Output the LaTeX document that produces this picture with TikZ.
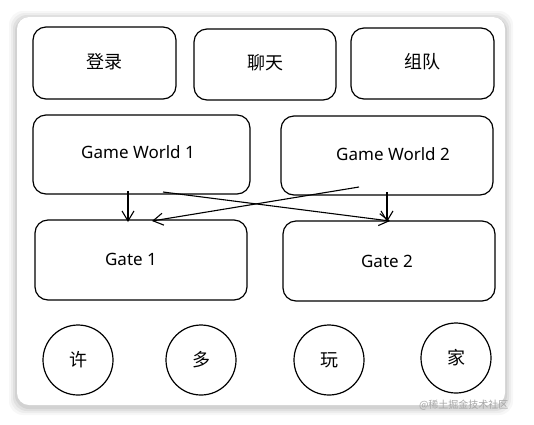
\documentclass[tikz,border=0pt]{standalone}
\usepackage{fontspec}
\setmainfont{Noto Sans}
\newfontfamily\cjk{Noto Sans CJK SC}
\usetikzlibrary{arrows.meta}
\begin{document}
\begin{tikzpicture}[x=1pt,y=-1pt,
  box/.style={draw=black,line width=1.2pt,rounded corners=13pt},
  cbox/.style={draw=black,line width=1.2pt,circle,minimum size=70pt,inner sep=0pt},
  lbl/.style={font=\cjk\fontsize{18}{20}\selectfont},
  en/.style={font=\fontsize{17}{19}\selectfont},
  arr/.style={line width=1.1pt,-{Straight Barb[length=10pt,width=12pt]}}]
\useasboundingbox (0,0) rectangle (534,424);
\fill[white] (0,0) rectangle (534,424);
% shadow
\foreach \i/\o in {8/0.03,6/0.04,4/0.05,2/0.06}
  \fill[black,opacity=\o,rounded corners=14pt] (17-\i,17-\i+2) rectangle (505+\i,405+\i+2);
\fill[white,rounded corners=12pt] (17,17) rectangle (505,405);
% top row
\draw[box] (33,27) rectangle (176,99);
\node[lbl] (login) at (104.5,62) {登录};
\draw[box] (194,29) rectangle (336,100);
\node[lbl] (chat) at (265,63) {聊天};
\draw[box] (351,28) rectangle (494,99);
\node[lbl] (team) at (422.5,62) {组队};
% game worlds
\draw[box] (33,115) rectangle (250,194);
\node[en] (gw1) at (138,152) {Game World 1};
\draw[box] (281,116) rectangle (493,195);
\node[en] (gw2) at (393,154) {Game World 2};
% gates
\draw[box] (35,220) rectangle (247,300);
\node[en] (g1) at (131,259) {Gate 1};
\draw[box] (283,221) rectangle (495,301);
\node[en] (g2) at (387,261) {Gate 2};
% coordinates for connectors
\coordinate (a1s) at (128,191);
\coordinate (a1e) at (128,222);
\coordinate (a2s) at (387,192);
\coordinate (a2e) at (387,222);
\coordinate (c1s) at (163,192);
\coordinate (c1e) at (390,221);
\coordinate (c2s) at (359,187);
\coordinate (c2e) at (152,221);
\draw[arr] (a1s) -- (a1e);
\draw[arr] (a2s) -- (a2e);
\draw[arr] (c1s) -- (c1e);
\draw[arr] (c2s) -- (c2e);
% players
\node[cbox,lbl] (p1) at (78,360) {许};
\node[cbox,lbl] (p2) at (201,360) {多};
\node[cbox,lbl] (p3) at (329,360) {玩};
\node[cbox,lbl] (p4) at (456,358) {家};
% watermark
\node[font=\cjk\fontsize{10}{12}\selectfont,text=black!35,anchor=east] (wm) at (512,405) {@稀土掘金技术社区};
\end{tikzpicture}
\end{document}
